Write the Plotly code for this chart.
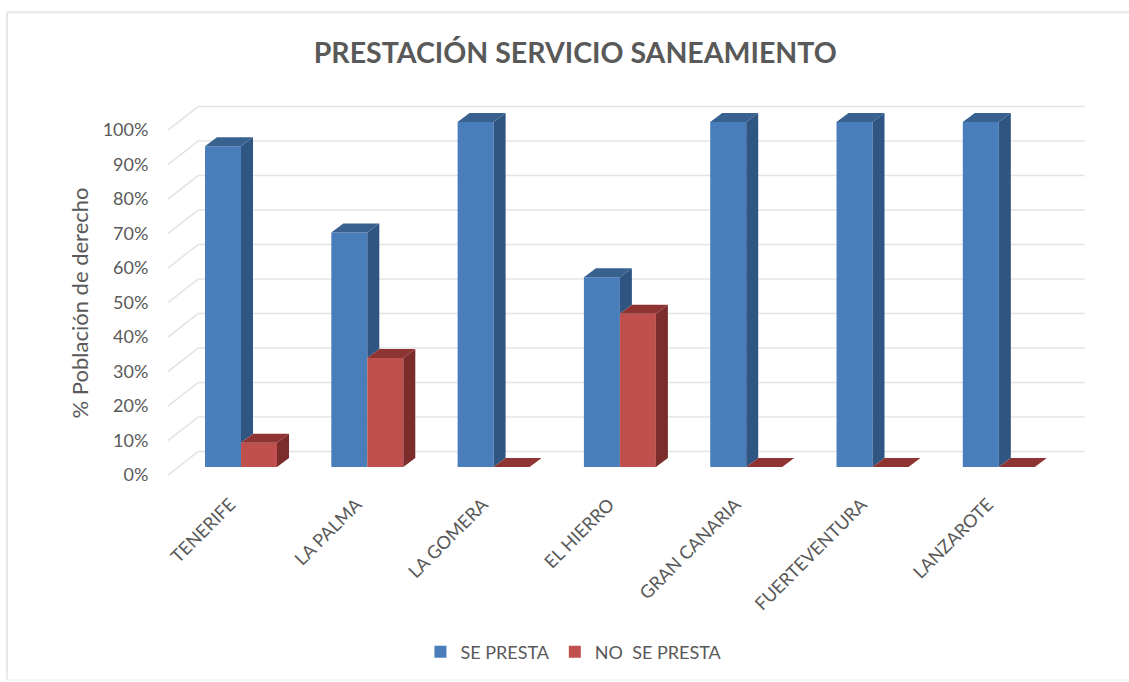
import plotly.graph_objects as go

categories = ["TENERIFE", "LA PALMA", "LA GOMERA", "EL HIERRO", "GRAN CANARIA", "FUERTEVENTURA", "LANZAROTE"]
se_presta = [93, 68, 100, 55, 100, 100, 100]
no_se_presta = [7, 31.6, 0, 44.4, 0, 0, 0]
y_ticks = [0, 10, 20, 30, 40, 50, 60, 70, 80, 90, 100]

TEXT = "#595959"
FONT = "Lato"
BLUE, BLUE_SIDE, BLUE_TOP = "#4A7EBB", "#2F5583", "#38618F"
RED, RED_SIDE, RED_TOP = "#C0504D", "#7C2C2B", "#8E3432"
BAR_W = 0.285          # width of one bar, in category units
DX, DY = 0.095, 2.6    # depth of a bar, in axis units
WALL_DROP = 2.32       # the wall's front edge sits below the bars' base
WALL_DX_L, WALL_DX_R = -0.578, -0.34   # stub start / back wall start
WALL_END = 6.68
WALL_RISE = 6.8        # rise from the wall's front edge to its back edge
LABEL_SHIFT = 0.085

idx = list(range(len(categories)))
fig = go.Figure()

fig.add_bar(x=[i - BAR_W / 2 for i in idx], y=se_presta, width=BAR_W, name="SE PRESTA",
            marker=dict(color=BLUE, line=dict(width=0)))
fig.add_bar(x=[i + BAR_W / 2 for i in idx], y=no_se_presta, width=BAR_W, name="NO\u00a0\u00a0SE PRESTA",
            marker=dict(color=RED, line=dict(width=0)))


def face(xs, ys, color):
    fig.add_scatter(x=xs, y=ys, mode="lines", fill="toself", fillcolor=color,
                    line=dict(width=0, color=color), showlegend=False, hoverinfo="skip")


for i, b, r in zip(idx, se_presta, no_se_presta):
    x0, x1, x2 = i - BAR_W, i, i + BAR_W
    face([x1, x1 + DX, x1 + DX, x1], [r, r + DY, b + DY, b], BLUE_SIDE)
    face([x0, x1, x1 + DX, x0 + DX], [b, b, b + DY, b + DY], BLUE_TOP)
    if r > 0:
        face([x2, x2 + DX, x2 + DX, x2], [0, DY, r + DY, r], RED_SIDE)
    face([x1, x2, x2 + DX, x1 + DX], [r, r, r + DY, r + DY], RED_TOP)

shapes = []
GRID = dict(color="#E4E4E4", width=1.6)
for t in y_ticks:
    front = t - WALL_DROP
    back = front + WALL_RISE
    shapes.append(dict(type="line", xref="x", yref="y", layer="below", line=GRID,
                       x0=WALL_DX_L, x1=WALL_DX_R, y0=front, y1=back))
    shapes.append(dict(type="line", xref="x", yref="y", layer="below", line=GRID,
                       x0=WALL_DX_R, x1=WALL_END, y0=back, y1=back))
# outer frame of the chart area: top, left, faint bottom
FRAME = dict(color="#E8E8E8", width=2)
shapes.append(dict(type="line", xref="paper", yref="paper", layer="below",
                   x0=-0.1746, x1=1.06, y0=1.23, y1=1.23, line=FRAME))
shapes.append(dict(type="line", xref="paper", yref="paper", layer="below",
                   x0=-0.1746, x1=-0.1746, y0=1.23, y1=-0.518, line=FRAME))
shapes.append(dict(type="line", xref="paper", yref="paper", layer="below",
                   x0=-0.1746, x1=1.06, y0=-0.518, y1=-0.518, line=dict(color="#F5F5F5", width=2)))

fig.update_layout(
    width=1129, height=682, autosize=False,
    margin=dict(l=168, r=39, t=100, b=200),
    paper_bgcolor="white", plot_bgcolor="white",
    barmode="overlay", shapes=shapes,
    font=dict(family=FONT, color=TEXT, size=17),
    title=dict(text="<b>PRESTACIÓN SERVICIO SANEAMIENTO</b>", x=0.5095, xanchor="center",
               y=0.922, yanchor="middle", font=dict(size=28.5, color=TEXT, family=FONT)),
    xaxis=dict(range=[-0.578, 6.722], tickmode="array", tickvals=[i - LABEL_SHIFT for i in idx],
               ticktext=categories, tickangle=-45, showgrid=False, zeroline=False, showline=False,
               ticks="outside", ticklen=4, tickcolor="rgba(0,0,0,0)",
               tickfont=dict(size=18, color=TEXT, family=FONT)),
    yaxis=dict(range=[-4.35, 106.38], tickmode="array",
               tickvals=[t - WALL_DROP for t in y_ticks], ticktext=[f"{t}%" for t in y_ticks],
               showgrid=False, zeroline=False, showline=False, ticks="outside", ticklen=15,
               tickcolor="rgba(0,0,0,0)", tickfont=dict(size=18, color=TEXT, family=FONT)),
    annotations=[dict(text="% Población de derecho", textangle=-90, xref="paper", yref="paper",
                      x=-0.0955, y=0.47, xanchor="center", yanchor="middle", showarrow=False,
                      font=dict(size=22, color=TEXT, family=FONT))],
    legend=dict(orientation="h", x=0.4403, xanchor="center", y=-0.445, yanchor="middle",
                font=dict(size=18, color=TEXT, family=FONT), itemclick=False, itemdoubleclick=False),
)

fig.write_html("out.html", post_script="document.body.style.margin='0';",
               config={"displayModeBar": False})
